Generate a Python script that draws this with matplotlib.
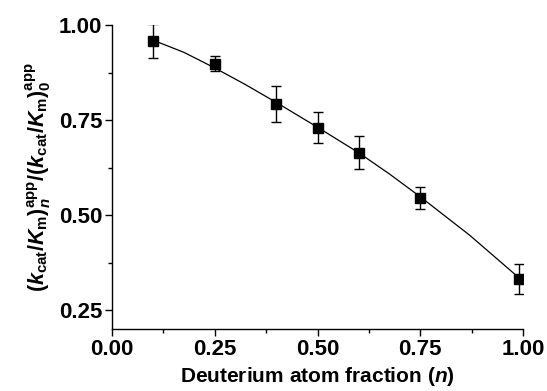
import matplotlib
matplotlib.use("Agg")
import matplotlib.pyplot as plt
from matplotlib.ticker import MultipleLocator

# Data
n_frac = [0.10, 0.25, 0.40, 0.50, 0.60, 0.75, 0.99]
ratio = [0.958, 0.898, 0.793, 0.730, 0.664, 0.545, 0.332]
err = [0.044, 0.020, 0.047, 0.040, 0.043, 0.028, 0.040]

fit_x = [0.10, 0.175, 0.25, 0.325, 0.40, 0.50, 0.60, 0.675, 0.75, 0.87, 0.99]
fit_y = [0.960, 0.928, 0.887, 0.843, 0.796, 0.731, 0.664, 0.608, 0.548, 0.447, 0.335]

xticks = [0.00, 0.25, 0.50, 0.75, 1.00]
yticks = [0.25, 0.50, 0.75, 1.00]

plt.rcParams['font.family'] = ['Liberation Sans', 'DejaVu Sans']
plt.rcParams['font.weight'] = 'bold'
plt.rcParams['mathtext.fontset'] = 'custom'
plt.rcParams['mathtext.rm'] = 'Liberation Sans:bold'
plt.rcParams['mathtext.it'] = 'Liberation Sans:italic:bold'
plt.rcParams['mathtext.bf'] = 'Liberation Sans:bold'

fig = plt.figure(figsize=(5.47, 3.91), dpi=100)
ax = fig.add_axes([112/547, 1 - 329/391, (523-112)/547, (329-25)/391])

ax.plot(fit_x, fit_y, color='black', lw=0.9)
ax.errorbar(n_frac, ratio, yerr=err, fmt='s', color='black', ms=6.5,
            ecolor='black', elinewidth=1.0, capsize=3.5, capthick=1.0)

ax.set_xlim(0, 1.0)
ax.set_ylim(0.2, 1.0)
ax.set_xticks(xticks)
ax.set_xticklabels([f"{v:.2f}" for v in xticks])
ax.set_yticks(yticks)
ax.set_yticklabels([f"{v:.2f}" for v in yticks])
ax.xaxis.set_minor_locator(MultipleLocator(0.125))
ax.yaxis.set_minor_locator(MultipleLocator(0.125))

for s in ['top', 'right']:
    ax.spines[s].set_visible(False)
for s in ['left', 'bottom']:
    ax.spines[s].set_linewidth(1.0)

ax.tick_params(axis='both', which='major', direction='out', length=5, width=1.0,
               labelsize=16)
ax.tick_params(axis='x', which='major', pad=2)
ax.tick_params(axis='y', which='major', pad=2)
ax.tick_params(axis='both', which='minor', direction='out', length=3, width=1.0)
for lab in ax.get_xticklabels() + ax.get_yticklabels():
    lab.set_fontweight('bold')

ax.set_xlabel(r'Deuterium atom fraction ($\mathit{n}$)', fontsize=15,
              fontweight='bold', labelpad=4)
ax.set_ylabel(r'$(\mathit{k}_{\rm cat}/\mathit{K}_{\rm m})_{\mathit{n}}^{\rm app}/(\mathit{k}_{\rm cat}/\mathit{K}_{\rm m})_{0}^{\rm app}$',
              fontsize=15.5, fontweight='bold', labelpad=4)

fig.savefig('out.png', dpi=100)
